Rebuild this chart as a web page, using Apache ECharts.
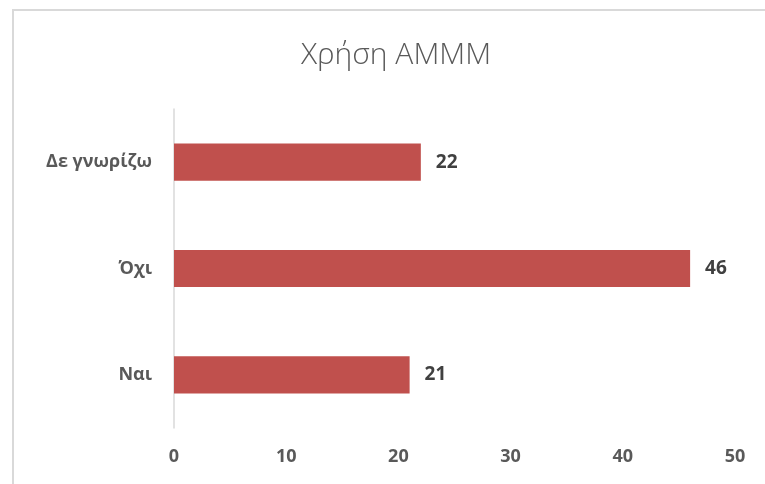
<!DOCTYPE html>
<html>
<head>
<meta charset="utf-8">
<script src="https://cdn.jsdelivr.net/npm/echarts@6/dist/echarts.min.js"></script>
<style>
  html, body { margin: 0; padding: 0; background: #fff; overflow: hidden; width: 765px; height: 484px; }
  #frame { position: absolute; left: 12px; top: 9px; width: 800px; height: 520px; border: 2px solid #d9d9d9; box-sizing: border-box; }
  #chart { position: absolute; left: 0; top: 0; width: 765px; height: 484px; }
</style>
</head>
<body>
<div id="frame"></div>
<div id="chart"></div>
<script>
// Responses, bottom to top on the category axis
const categories = ['Ναι', 'Όχι', 'Δε γνωρίζω'];
const counts = [21, 46, 22];
const titleText = 'Χρήση ΑΜΜΜ';

const chart = echarts.init(document.getElementById('chart'), null, { renderer: 'canvas' });
chart.setOption({
  backgroundColor: 'transparent',
  animation: false,
  title: {
    text: titleText,
    left: 391,
    top: 35,
    textAlign: 'center',
    textStyle: {
      fontFamily: 'Open Sans',
      fontWeight: 300,
      fontSize: 30,
      color: '#595959'
    }
  },
  grid: { left: 174, right: 30, top: 109, bottom: 56, containLabel: false },
  xAxis: {
    type: 'value',
    min: 0,
    max: 50,
    interval: 10,
    axisLine: { show: false },
    axisTick: { show: false },
    splitLine: { show: false },
    axisLabel: {
      margin: 20,
      fontFamily: 'Open Sans',
      fontWeight: 'bold',
      fontSize: 18,
      color: '#595959'
    }
  },
  yAxis: {
    type: 'category',
    data: categories,
    axisLine: { show: true, lineStyle: { color: '#d9d9d9', width: 1.5 } },
    axisTick: { show: false },
    axisLabel: {
      margin: 22,
      fontFamily: 'Open Sans',
      fontWeight: 'bold',
      fontSize: 18,
      color: '#595959'
    }
  },
  series: [{
    type: 'bar',
    data: counts,
    barCategoryGap: '65%',
    itemStyle: { color: '#c0504d' },
    label: {
      show: true,
      position: 'right',
      distance: 15,
      fontFamily: 'Open Sans',
      fontWeight: 'bold',
      fontSize: 19,
      color: '#404040'
    }
  }]
});
</script>
</body>
</html>
